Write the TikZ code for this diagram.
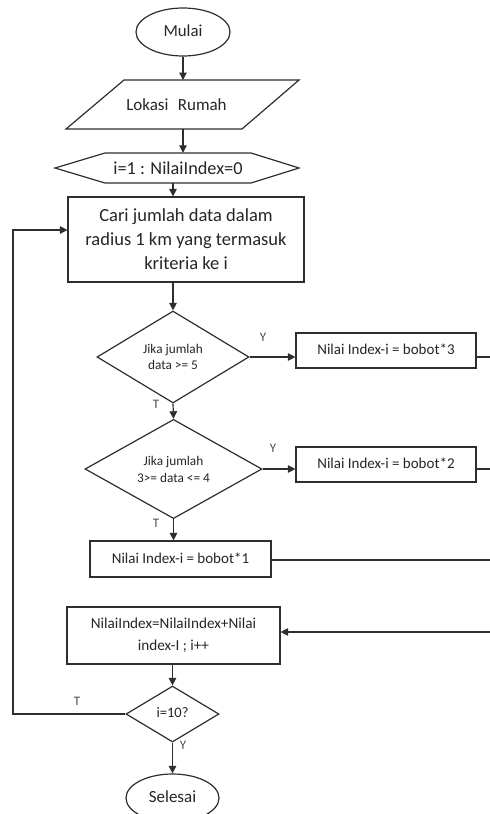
\documentclass[tikz,border=0pt]{standalone}
\usepackage{fontspec}
\setmainfont{Carlito}
\usetikzlibrary{shapes.geometric,arrows.meta}
\begin{document}
\begin{tikzpicture}[x=1pt,y=-1pt,
  line/.style={line width=1.2pt, draw=black!82},
  arr/.style={line, -{Triangle[length=7.5pt,width=7.5pt]}},
  txt/.style={text=black!85, inner sep=0pt, align=center},
  box/.style={line, txt, rectangle},
  dia/.style={line, txt, diamond},
  oval/.style={line, txt, ellipse},
  lab/.style={text=black!70, inner sep=0pt, font=\fontsize{13}{15}\selectfont}]
\useasboundingbox (0,0) rectangle (490,814);
\clip (0,0) rectangle (490,814);
\fill[white] (0,0) rectangle (490,814);

% start
\node[oval, minimum width=94pt, minimum height=48pt, font=\fontsize{16.8}{19}\selectfont] (mulai) at (183,32) {\raisebox{2pt}{Mulai}};

% input parallelogram
\node[txt, minimum width=176pt, minimum height=49pt, font=\fontsize{17}{19}\selectfont] (lok) at (176.5,104.5) {Lokasi\hspace{0.55em}Rumah};
\draw[line] (124,80) -- (299,80) -- (242,129) -- (66,129) -- cycle;

% preparation hexagon
\node[txt, minimum width=146pt, minimum height=30pt, font=\fontsize{18.3}{20}\selectfont] (init) at (178,168) {i=1 : NilaiIndex=0};
\draw[line] (55,168) -- (105,153) -- (251,153) -- (299,168) -- (251,183) -- (105,183) -- cycle;

% process
\node[box, minimum width=236pt, minimum height=85pt, font=\fontsize{18.5}{24}\selectfont] (cari) at (186,239.5)
  {Cari jumlah data dalam\\radius 1 km yang termasuk\\kriteria ke i};

% decisions
\node[dia, minimum width=152pt, minimum height=92pt, font=\fontsize{13.3}{16}\selectfont] (d1) at (173,357) {Jika jumlah\\data >= 5};
\node[dia, minimum width=177pt, minimum height=92pt, font=\fontsize{13.3}{17}\selectfont] (d2) at (173.5,469) {Jika jumlah\\3>= data <= 4};

% value boxes
\node[box, minimum width=180pt, minimum height=35pt, font=\fontsize{15}{17}\selectfont] (b3) at (386,350.5) {\raisebox{2pt}{Nilai Index-i = bobot*3}};
\node[box, minimum width=180pt, minimum height=35pt, font=\fontsize{15}{17}\selectfont] (b2) at (386,464.5) {\raisebox{2pt}{Nilai Index-i = bobot*2}};
\node[box, minimum width=181pt, minimum height=36pt, font=\fontsize{15}{17}\selectfont] (b1) at (180.5,559) {\raisebox{2pt}{Nilai Index-i = bobot*1}};

% accumulate
\node[box, minimum width=213pt, minimum height=57pt, font=\fontsize{15.2}{22}\selectfont] (ni) at (173.5,635.5)
  {NilaiIndex=NilaiIndex+Nilai\\index-I ; i++};

% loop test
\node[dia, minimum width=93pt, minimum height=56pt, font=\fontsize{14.5}{17}\selectfont] (d3) at (172.5,714) {\raisebox{2pt}{i=10?}};

% end
\node[oval, minimum width=93pt, minimum height=48pt, font=\fontsize{17}{19}\selectfont] (selesai) at (172.5,798) {\raisebox{3pt}{Selesai}};

% free ends at the cut right edge
\coordinate (e3) at (490,357);
\coordinate (e2) at (490,469);
\coordinate (e1) at (490,560);
\coordinate (e0) at (490,632);

% connectors
\draw[arr] (mulai.south) -- (mulai.south |- 0,80);
\draw[arr] (mulai.south |- lok.south) -- (mulai.south |- init.north);
\draw[arr] (d1.north |- init.south) -- (d1.north |- cari.north);
\draw[arr] (d1.north |- cari.south) -- (d1.north);
\draw[arr] (d1.east) -- (d1.east -| b3.west);
\draw[line] (d1.east -| b3.east) -- (e3);
\draw[arr] (d1.south) -- (d2.north);
\draw[arr] (d2.east) -- (d2.east -| b2.west);
\draw[line] (d2.east -| b2.east) -- (e2);
\draw[arr] (d2.south) -- (d2.south |- b1.north);
\draw[line] (e1 -| b1.east) -- (e1);
\draw[arr] (e0) -- (e0 -| ni.east);
\draw[arr] (d3.north |- ni.south) -- (d3.north);
\draw[arr] (d3.west) -- (13,714) |- ([yshift=9.5pt]cari.west);
\draw[arr] (d3.south) -- (selesai.north);

% branch labels
\node[lab] (y1) at (263,337) {Y};
\node[lab] (t1) at (156,404) {T};
\node[lab] (y2) at (273,448) {Y};
\node[lab] (t2) at (156,523) {T};
\node[lab] (t3) at (77,701) {T};
\node[lab] (y3) at (183,745) {Y};
\end{tikzpicture}
\end{document}
